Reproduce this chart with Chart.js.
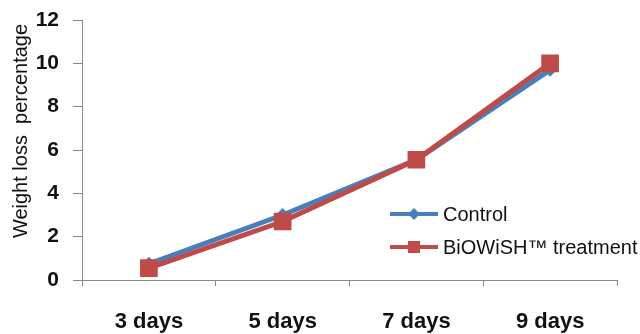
<!DOCTYPE html>
<html>
<head>
<meta charset="utf-8">
<script src="https://cdn.jsdelivr.net/npm/chart.js@4/dist/chart.umd.min.js"></script>
<style>
  html, body { margin: 0; padding: 0; background: #ffffff; }
  #wrap { width: 640px; height: 334px; position: relative; }
</style>
</head>
<body>
<div id="wrap"><canvas id="chart" width="640" height="334"></canvas></div>
<script>
// Weight loss over storage time
const days = ['3 days', '5 days', '7 days', '9 days'];
const controlValues = [0.75, 3.0, 5.55, 9.7];
const biowishValues = [0.55, 2.7, 5.55, 10.0];
const seriesNames = ['Control', 'BiOWiSH\u2122 treatment'];
const axisTitle = 'Weight loss  percentage';

const BLUE = '#4a7ebb';
const RED = '#be4b48';
const AXIS = '#868686';
const FONT = "'Liberation Sans', Arial, sans-serif";

// Legend inside the plot, plus the rotated y axis caption
const extras = {
  id: 'extras',
  afterDraw(chart) {
    const ctx = chart.ctx;
    ctx.save();
    // y axis caption
    ctx.translate(21, 131);
    ctx.rotate(-Math.PI / 2);
    ctx.fillStyle = '#111';
    ctx.font = '20px ' + FONT;
    ctx.textAlign = 'center';
    ctx.textBaseline = 'middle';
    ctx.fillText(axisTitle, 0, 0);
    ctx.restore();

    // legend entries
    const rows = [214, 247];
    chart.data.datasets.forEach((ds, i) => {
      const y = rows[i];
      ctx.save();
      ctx.strokeStyle = ds.borderColor;
      ctx.lineWidth = 4;
      ctx.beginPath();
      ctx.moveTo(390, y);
      ctx.lineTo(438, y);
      ctx.stroke();
      ctx.fillStyle = ds.backgroundColor;
      if (ds.pointStyle === 'rect') {
        ctx.fillRect(408, y - 6, 12, 12);
      } else {
        ctx.beginPath();
        ctx.moveTo(414, y - 6);
        ctx.lineTo(420, y);
        ctx.lineTo(414, y + 6);
        ctx.lineTo(408, y);
        ctx.closePath();
        ctx.fill();
      }
      ctx.fillStyle = '#111';
      ctx.font = '20px ' + FONT;
      ctx.textAlign = 'left';
      ctx.textBaseline = 'middle';
      ctx.fillText(ds.label, 443, y + 1);
      ctx.restore();
    });
  }
};

new Chart(document.getElementById('chart'), {
  type: 'line',
  data: {
    labels: days,
    datasets: [
      {
        label: seriesNames[0],
        data: controlValues,
        borderColor: BLUE,
        backgroundColor: BLUE,
        borderWidth: 5,
        pointStyle: 'rectRot',
        pointRadius: 7,
        pointBorderWidth: 0,
        tension: 0,
        order: 1
      },
      {
        label: seriesNames[1],
        data: biowishValues,
        borderColor: RED,
        backgroundColor: RED,
        borderWidth: 5,
        pointStyle: 'rect',
        pointRadius: 12.5,
        pointBorderWidth: 0,
        tension: 0,
        order: 0
      }
    ]
  },
  options: {
    responsive: false,
    animation: false,
    layout: { padding: { left: 0, right: 23, top: 20, bottom: 0 } },
    plugins: {
      legend: { display: false },
      tooltip: { enabled: false }
    },
    scales: {
      x: {
        type: 'category',
        offset: true,
        afterFit(scale) {
          scale.height = 54;
          scale.paddingLeft = 0;
          scale.paddingRight = 0;
        },
        border: { display: true, color: AXIS, width: 1 },
        grid: {
          offset: true,
          drawOnChartArea: false,
          drawTicks: true,
          tickLength: 6,
          color: AXIS
        },
        ticks: {
          color: '#111',
          padding: 23,
          font: { family: FONT, size: 22, weight: 'bold' }
        }
      },
      y: {
        min: 0,
        max: 12,
        afterFit(scale) {
          scale.width = 82;
          scale.paddingTop = 0;
          scale.paddingBottom = 0;
        },
        border: { display: true, color: AXIS, width: 1 },
        grid: {
          drawOnChartArea: false,
          drawTicks: true,
          tickLength: 9,
          color: AXIS
        },
        ticks: {
          stepSize: 2,
          color: '#111',
          padding: 14,
          font: { family: FONT, size: 21, weight: 'bold' }
        }
      }
    }
  },
  plugins: [extras]
});
</script>
</body>
</html>
